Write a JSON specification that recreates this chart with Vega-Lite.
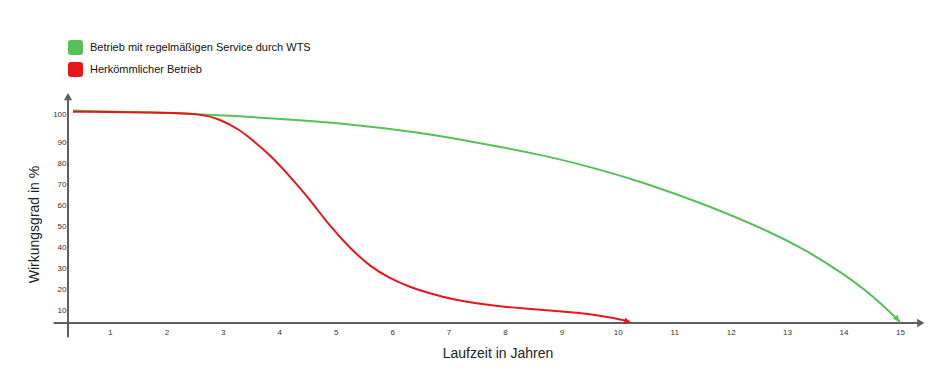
{
  "$schema": "https://vega.github.io/schema/vega-lite/v6.json",
  "autosize": "none",
  "width": 859,
  "height": 231,
  "padding": {"left": 68, "top": 92, "right": 23, "bottom": 54},
  "background": "white",
  "config": {"view": {"stroke": null}, "font": "Liberation Sans"},
  "datasets": {
    "curves": [
      {"jahr": 0.344, "wirkungsgrad": 101.2, "betrieb": "Betrieb mit regelmäßigen Service durch WTS"},
      {"jahr": 1.886, "wirkungsgrad": 100.6, "betrieb": "Betrieb mit regelmäßigen Service durch WTS"},
      {"jahr": 3.658, "wirkungsgrad": 98.8, "betrieb": "Betrieb mit regelmäßigen Service durch WTS"},
      {"jahr": 5.076, "wirkungsgrad": 96.9, "betrieb": "Betrieb mit regelmäßigen Service durch WTS"},
      {"jahr": 6.494, "wirkungsgrad": 93.4, "betrieb": "Betrieb mit regelmäßigen Service durch WTS"},
      {"jahr": 7.557, "wirkungsgrad": 89.5, "betrieb": "Betrieb mit regelmäßigen Service durch WTS"},
      {"jahr": 8.797, "wirkungsgrad": 83.2, "betrieb": "Betrieb mit regelmäßigen Service durch WTS"},
      {"jahr": 9.683, "wirkungsgrad": 76.9, "betrieb": "Betrieb mit regelmäßigen Service durch WTS"},
      {"jahr": 10.392, "wirkungsgrad": 71.4, "betrieb": "Betrieb mit regelmäßigen Service durch WTS"},
      {"jahr": 11.574, "wirkungsgrad": 60.3, "betrieb": "Betrieb mit regelmäßigen Service durch WTS"},
      {"jahr": 12.749, "wirkungsgrad": 46.9, "betrieb": "Betrieb mit regelmäßigen Service durch WTS"},
      {"jahr": 13.347, "wirkungsgrad": 38.5, "betrieb": "Betrieb mit regelmäßigen Service durch WTS"},
      {"jahr": 13.935, "wirkungsgrad": 28.8, "betrieb": "Betrieb mit regelmäßigen Service durch WTS"},
      {"jahr": 14.526, "wirkungsgrad": 17.2, "betrieb": "Betrieb mit regelmäßigen Service durch WTS"},
      {"jahr": 15.0, "wirkungsgrad": 4.8, "betrieb": "Betrieb mit regelmäßigen Service durch WTS"},
      {"jahr": 0.344, "wirkungsgrad": 100.8, "betrieb": "Herkömmlicher Betrieb"},
      {"jahr": 1.886, "wirkungsgrad": 100.6, "betrieb": "Herkömmlicher Betrieb"},
      {"jahr": 2.595, "wirkungsgrad": 100.1, "betrieb": "Herkömmlicher Betrieb"},
      {"jahr": 2.949, "wirkungsgrad": 98.2, "betrieb": "Herkömmlicher Betrieb"},
      {"jahr": 3.303, "wirkungsgrad": 94.3, "betrieb": "Herkömmlicher Betrieb"},
      {"jahr": 3.48, "wirkungsgrad": 91.4, "betrieb": "Herkömmlicher Betrieb"},
      {"jahr": 3.835, "wirkungsgrad": 84.0, "betrieb": "Herkömmlicher Betrieb"},
      {"jahr": 4.189, "wirkungsgrad": 73.7, "betrieb": "Herkömmlicher Betrieb"},
      {"jahr": 4.544, "wirkungsgrad": 62.7, "betrieb": "Herkömmlicher Betrieb"},
      {"jahr": 4.898, "wirkungsgrad": 50.1, "betrieb": "Herkömmlicher Betrieb"},
      {"jahr": 5.252, "wirkungsgrad": 39.8, "betrieb": "Herkömmlicher Betrieb"},
      {"jahr": 5.607, "wirkungsgrad": 31.1, "betrieb": "Herkömmlicher Betrieb"},
      {"jahr": 5.961, "wirkungsgrad": 25.4, "betrieb": "Herkömmlicher Betrieb"},
      {"jahr": 6.316, "wirkungsgrad": 21.3, "betrieb": "Herkömmlicher Betrieb"},
      {"jahr": 6.671, "wirkungsgrad": 18.3, "betrieb": "Herkömmlicher Betrieb"},
      {"jahr": 7.025, "wirkungsgrad": 15.6, "betrieb": "Herkömmlicher Betrieb"},
      {"jahr": 7.911, "wirkungsgrad": 11.9, "betrieb": "Herkömmlicher Betrieb"},
      {"jahr": 8.797, "wirkungsgrad": 10.3, "betrieb": "Herkömmlicher Betrieb"},
      {"jahr": 9.683, "wirkungsgrad": 8.2, "betrieb": "Herkömmlicher Betrieb"},
      {"jahr": 10.215, "wirkungsgrad": 4.9, "betrieb": "Herkömmlicher Betrieb"}
    ]
  },
  "encoding": {
    "x": {
      "type": "quantitative",
      "scale": {"domain": [0.256, 15.48], "nice": false, "zero": false},
      "axis": {
        "title": "Laufzeit in Jahren",
        "values": [1,2,3,4,5,6,7,8,9,10,11,12,13,14,15],
        "format": "d",
        "domain": false, "ticks": false, "grid": false,
        "labelFontSize": 8, "labelColor": "#333", "labelPadding": 5,
        "titleFontSize": 14, "titleFontWeight": "normal", "titleColor": "#222", "titlePadding": 10
      }
    },
    "y": {
      "type": "quantitative",
      "scale": {"domain": [4.3, 90, 100, 107.8], "range": [231, 50, 22, 0], "nice": false, "zero": false},
      "axis": {
        "title": "Wirkungsgrad in %",
        "values": [10,20,30,40,50,60,70,80,90,100],
        "domain": false, "ticks": false, "grid": false,
        "labelFontSize": 8, "labelColor": "#333", "labelPadding": 2,
        "titleFontSize": 14, "titleFontWeight": "normal", "titleColor": "#222", "titlePadding": 11,
        "titleY": 132
      }
    }
  },
  "layer": [
    {
      "data": {"values": [{}]},
      "mark": {"type": "rule", "color": "#5f5f5f", "strokeWidth": 2},
      "encoding": {"x": {"datum": 0.0}, "x2": {"datum": 15.35}, "y": {"datum": 4.3}}
    },
    {
      "data": {"values": [{}]},
      "mark": {"type": "rule", "color": "#5f5f5f", "strokeWidth": 2},
      "encoding": {"x": {"datum": 0.256}, "y": {"datum": -2.4}, "y2": {"datum": 106.0}}
    },
    {
      "data": {"values": [{}]},
      "mark": {"type": "point", "shape": "triangle-right", "filled": true, "color": "#5f5f5f", "opacity": 1, "size": 70},
      "encoding": {"x": {"datum": 15.37}, "y": {"datum": 4.3}}
    },
    {
      "data": {"values": [{}]},
      "mark": {"type": "point", "shape": "triangle-up", "filled": true, "color": "#5f5f5f", "opacity": 1, "size": 70},
      "encoding": {"x": {"datum": 0.256}, "y": {"datum": 106.2}}
    },
    {
      "data": {"name": "curves"},
      "mark": {"type": "line", "interpolate": "basis", "strokeWidth": 2},
      "encoding": {
        "x": {"field": "jahr", "type": "quantitative"},
        "y": {"field": "wirkungsgrad", "type": "quantitative"},
        "color": {
          "field": "betrieb", "type": "nominal",
          "scale": {"domain": ["Betrieb mit regelmäßigen Service durch WTS", "Herkömmlicher Betrieb"], "range": ["#55c157", "#e8161b"]},
          "legend": {
            "title": null, "orient": "none", "legendX": 0, "legendY": -52,
            "symbolType": "M -0.7 -1 L 0.7 -1 Q 1 -1 1 -0.7 L 1 0.7 Q 1 1 0.7 1 L -0.7 1 Q -1 1 -1 0.7 L -1 -0.7 Q -1 -1 -0.7 -1 Z",
            "symbolSize": 196, "symbolStrokeWidth": 1, "labelFontSize": 11, "labelColor": "#111", "labelOffset": 7,
            "rowPadding": 3, "labelLimit": 400,
            "encode": {"symbols": {"update": {"fill": {"scale": "color", "field": "value"}, "fillOpacity": {"value": 1}, "stroke": {"value": "#555555"}, "strokeWidth": {"value": 1}, "size": {"value": 196}}}}
          }
        }
      }
    },
    {
      "data": {"values": [{}]},
      "mark": {"type": "point", "shape": "triangle-right", "filled": true, "color": "#e8161b", "opacity": 1, "size": 45, "angle": 14},
      "encoding": {"x": {"datum": 10.17}, "y": {"datum": 5.0}}
    },
    {
      "data": {"values": [{}]},
      "mark": {"type": "point", "shape": "triangle-right", "filled": true, "color": "#55c157", "opacity": 1, "size": 45, "angle": 52},
      "encoding": {"x": {"datum": 14.95}, "y": {"datum": 6.2}}
    }
  ]
}
